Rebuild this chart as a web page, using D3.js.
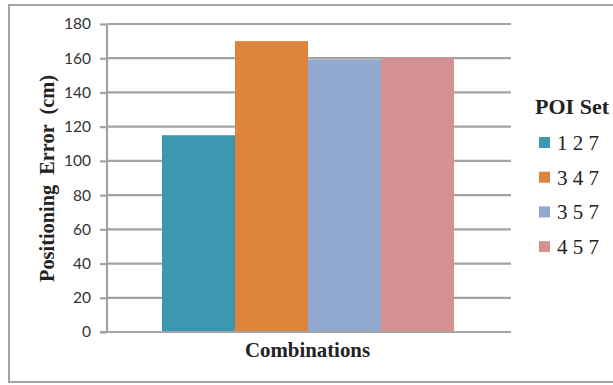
<!DOCTYPE html>
<html>
<head>
<meta charset="utf-8">
<script src="https://cdn.jsdelivr.net/npm/d3@7"></script>
<style>
  html, body { margin: 0; padding: 0; background: #fff; }
  svg { display: block; }
  text { white-space: pre; }
</style>
</head>
<body>
<svg id="chart" width="613" height="385"></svg>
<script>
// Positioning error per POI combination
const combos = ["1 2 7", "3 4 7", "3 5 7", "4 5 7"];
const errors = [115, 170, 159.3, 160.5];
const colors = ["#3d97b0", "#de843a", "#92a9cf", "#d39191"];
const yTicks = [0, 20, 40, 60, 80, 100, 120, 140, 160, 180];

const serif = "'Liberation Serif', 'Times New Roman', serif";
const svg = d3.select("#chart");

// outer frame (right edge runs past the canvas)
svg.append("rect")
  .attr("x", 9).attr("y", 5).attr("width", 620).attr("height", 377)
  .attr("fill", "#fff").attr("stroke", "#a3a3a3").attr("stroke-width", 2);

const plot = { left: 107, right: 511, top: 24, bottom: 332 };

const y = d3.scaleLinear().domain([0, 180]).range([plot.bottom, plot.top]);
const x = d3.scaleBand().domain(combos)
  .range([162, 454]).paddingInner(0).paddingOuter(0);

// gridlines
svg.append("g").selectAll("line").data(yTicks.filter(d => d > 0)).join("line")
  .attr("x1", plot.left).attr("x2", plot.right)
  .attr("y1", d => y(d)).attr("y2", d => y(d))
  .attr("stroke", "#a3a3a3").attr("stroke-width", 2.2);

// bars
svg.append("g").selectAll("rect").data(combos).join("rect")
  .attr("x", d => x(d))
  .attr("width", x.bandwidth())
  .attr("y", (d, i) => y(errors[i]))
  .attr("height", (d, i) => plot.bottom - y(errors[i]))
  .attr("fill", (d, i) => colors[i]);

// y axis
const yAxis = d3.axisLeft(y).tickValues(yTicks).tickSize(7).tickPadding(9);
const gy = svg.append("g").attr("transform", `translate(${plot.left},0)`).call(yAxis);
gy.select(".domain").attr("stroke", "#a3a3a3").attr("stroke-width", 2.2)
  .attr("d", `M0,${plot.top}V${plot.bottom}`);
gy.selectAll(".tick line").attr("stroke", "#a3a3a3").attr("stroke-width", 2.2);
gy.selectAll(".tick text")
  .attr("fill", "#333").style("font-family", "Lato, 'Open Sans', sans-serif")
  .style("font-size", "15.5px");

// x baseline
svg.append("line")
  .attr("x1", plot.left - 7).attr("x2", plot.right)
  .attr("y1", plot.bottom).attr("y2", plot.bottom)
  .attr("stroke", "#a3a3a3").attr("stroke-width", 2.2);

// axis titles
svg.append("text")
  .attr("transform", `translate(54,${178.5}) rotate(-90)`)
  .attr("text-anchor", "middle")
  .style("font-family", serif)
  .style("font-weight", "bold").style("font-size", "21px").attr("fill", "#222")
  .attr("textLength", 207).attr("lengthAdjust", "spacingAndGlyphs")
  .text("Positioning  Error  (cm)");

svg.append("text")
  .attr("x", 307.5).attr("y", 357)
  .attr("text-anchor", "middle")
  .style("font-family", serif)
  .style("font-weight", "bold").style("font-size", "21.5px").attr("fill", "#222")
  .attr("textLength", 125).attr("lengthAdjust", "spacingAndGlyphs")
  .text("Combinations");

// legend
const lg = svg.append("g");
lg.append("text")
  .attr("x", 535).attr("y", 114)
  .style("font-family", serif)
  .style("font-weight", "bold").style("font-size", "21px").attr("fill", "#222")
  .attr("textLength", 74).attr("lengthAdjust", "spacingAndGlyphs")
  .text("POI Set");

const items = lg.selectAll("g.item").data(combos).join("g")
  .attr("class", "item")
  .attr("transform", (d, i) => `translate(539,${137 + i * 34.7})`);
items.append("rect")
  .attr("width", 11).attr("height", 11)
  .attr("fill", (d, i) => colors[i]);
items.append("text")
  .attr("x", 18).attr("y", 13)
  .style("font-family", serif)
  .style("font-size", "21px").attr("fill", "#222")
  .text(d => d);
</script>
</body>
</html>
